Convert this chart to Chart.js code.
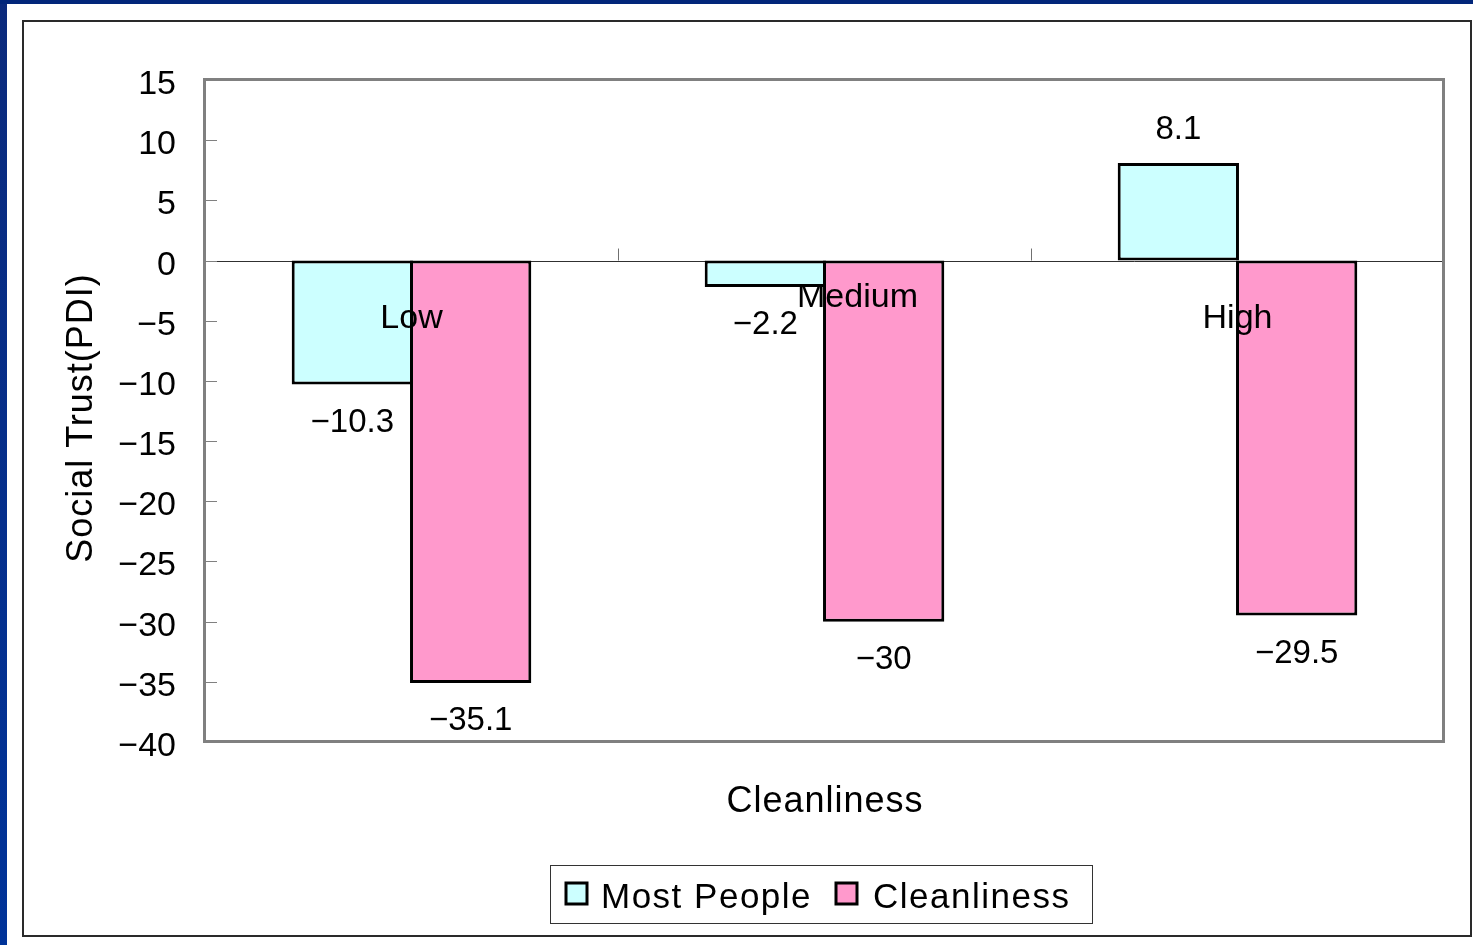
<!DOCTYPE html>
<html>
<head>
<meta charset="utf-8">
<script src="https://cdn.jsdelivr.net/npm/chart.js@4"></script>
<style>
  html, body { margin: 0; padding: 0; background: #ffffff; }
  #wrap { position: absolute; left: 0; top: 0; width: 1473px; height: 945px; }
</style>
</head>
<body>
<div id="wrap"><canvas id="c" width="1473" height="945"></canvas></div>
<script>
const categories = ["Low", "Medium", "High"];
const mostPeople = [-10.3, -2.2, 8.1];
const cleanliness = [-35.1, -30, -29.5];
const seriesNames = ["Most People", "Cleanliness"];
const yTicks = [15, 10, 5, 0, -5, -10, -15, -20, -25, -30, -35, -40];

const FONT = '"Liberation Sans", Arial, sans-serif';
const fmt = v => (v < 0 ? "\u2212" + Math.abs(v) : String(v));

const decor = {
  id: 'decor',
  beforeDraw(chart) {
    const ctx = chart.ctx;
    ctx.save();
    ctx.fillStyle = '#ffffff';
    ctx.fillRect(0, 0, 1473, 945);
    const g = ctx.createLinearGradient(0, 0, 0, 945);
    g.addColorStop(0, '#0b2a7c');
    g.addColorStop(1, '#003399');
    ctx.fillStyle = g;
    ctx.fillRect(0, 0, 7, 945);
    ctx.fillStyle = '#02267a';
    ctx.fillRect(0, 0, 1473, 4);
    ctx.strokeStyle = '#2a2a2a';
    ctx.lineWidth = 2;
    ctx.strokeRect(23, 21, 1448, 915);
    ctx.restore();
  },
  beforeDatasetsDraw(chart) {
    const ctx = chart.ctx;
    const a = chart.chartArea;
    const y = chart.scales.y;
    const x = chart.scales.x;
    const y0 = y.getPixelForValue(0);
    ctx.save();
    // zero line
    ctx.strokeStyle = '#303030';
    ctx.lineWidth = 1;
    ctx.beginPath();
    ctx.moveTo(a.left, Math.round(y0) + 0.5);
    ctx.lineTo(a.right, Math.round(y0) + 0.5);
    ctx.stroke();
    // category separator ticks
    ctx.strokeStyle = '#707070';
    for (let i = 1; i < categories.length; i++) {
      const px = Math.round((x.getPixelForValue(i - 1) + x.getPixelForValue(i)) / 2) + 0.5;
      ctx.beginPath();
      ctx.moveTo(px, y0 - 12);
      ctx.lineTo(px, y0);
      ctx.stroke();
    }
    ctx.beginPath();
    ctx.moveTo(a.right - 0.5, y0 - 12);
    ctx.lineTo(a.right - 0.5, y0);
    ctx.stroke();
    // y ticks inward + tick labels from the scale
    ctx.strokeStyle = '#808080';
    ctx.fillStyle = '#000000';
    ctx.font = '34px ' + FONT;
    ctx.textAlign = 'right';
    ctx.textBaseline = 'middle';
    y.ticks.forEach(t => {
      const py = Math.round(y.getPixelForValue(t.value)) + 0.5;
      ctx.beginPath();
      ctx.moveTo(a.left, py);
      ctx.lineTo(a.left + 12, py);
      ctx.stroke();
      ctx.fillText(fmt(t.value), a.left - 29, py + 4);
    });
    // plot frame
    ctx.strokeStyle = '#808080';
    ctx.lineWidth = 3;
    ctx.strokeRect(a.left - 0.5, a.top - 0.5, a.right - a.left, a.bottom - a.top);
    ctx.restore();
  },
  afterDatasetsDraw(chart) {
    const ctx = chart.ctx;
    const y = chart.scales.y;
    const x = chart.scales.x;
    const y0 = y.getPixelForValue(0);
    ctx.save();
    ctx.fillStyle = '#000000';
    ctx.textAlign = 'center';
    ctx.textBaseline = 'middle';
    // data labels
    ctx.font = '33px ' + FONT;
    chart.data.datasets.forEach((ds, di) => {
      const meta = chart.getDatasetMeta(di);
      meta.data.forEach((bar, i) => {
        const v = ds.data[i];
        const ly = v < 0 ? bar.y + 38 : bar.y - 33;
        ctx.fillText(fmt(v), bar.x, ly);
      });
    });
    // category labels near zero line
    ctx.font = '34px ' + FONT;
    const catOffsets = [[0, 58], [33, 37], [0, 58]];
    categories.forEach((c, i) => {
      ctx.fillText(c, x.getPixelForValue(i) + catOffsets[i][0], y0 + catOffsets[i][1]);
    });
    // axis titles
    ctx.font = '36px ' + FONT;
    ctx.letterSpacing = '1px';
    ctx.fillText('Cleanliness', 825, 802);
    ctx.save();
    ctx.translate(82, 418);
    ctx.rotate(-Math.PI / 2);
    ctx.fillText('Social Trust(PDI)', 0, 0);
    ctx.restore();
    // legend
    ctx.strokeStyle = '#333333';
    ctx.lineWidth = 1;
    ctx.strokeRect(550.5, 865.5, 542, 58);
    const colors = ['#CCFFFF', '#FF99CC'];
    const sw = [566, 836];
    const tx = [601, 873];
    ctx.textAlign = 'left';
    ctx.font = '35px ' + FONT;
    ctx.letterSpacing = '1.5px';
    seriesNames.forEach((n, i) => {
      ctx.fillStyle = colors[i];
      ctx.fillRect(sw[i], 883, 21, 21);
      ctx.strokeStyle = '#000000';
      ctx.lineWidth = 3;
      ctx.strokeRect(sw[i], 883, 21, 21);
      ctx.fillStyle = '#000000';
      ctx.fillText(n, tx[i], 898);
    });
    ctx.restore();
  }
};

new Chart(document.getElementById('c'), {
  type: 'bar',
  data: {
    labels: categories,
    datasets: [
      { label: seriesNames[0], data: mostPeople, backgroundColor: '#CCFFFF', borderColor: '#000000', borderWidth: 3, borderSkipped: false },
      { label: seriesNames[1], data: cleanliness, backgroundColor: '#FF99CC', borderColor: '#000000', borderWidth: 3, borderSkipped: false }
    ]
  },
  options: {
    responsive: false,
    animation: false,
    events: [],
    layout: { padding: { left: 0, top: 80, right: 29, bottom: 203 } },
    datasets: { bar: { categoryPercentage: 0.573, barPercentage: 1.025 } },
    plugins: { legend: { display: false }, tooltip: { enabled: false }, title: { display: false } },
    scales: {
      x: { type: 'category', display: false, offset: true, grid: { display: false } },
      y: {
        min: -40, max: 15,
        afterFit(scale) { scale.width = 205; },
        grid: { display: false, drawTicks: false },
        border: { display: false },
        ticks: { stepSize: 5, display: false }
      }
    }
  },
  plugins: [decor]
});
</script>
</body>
</html>
